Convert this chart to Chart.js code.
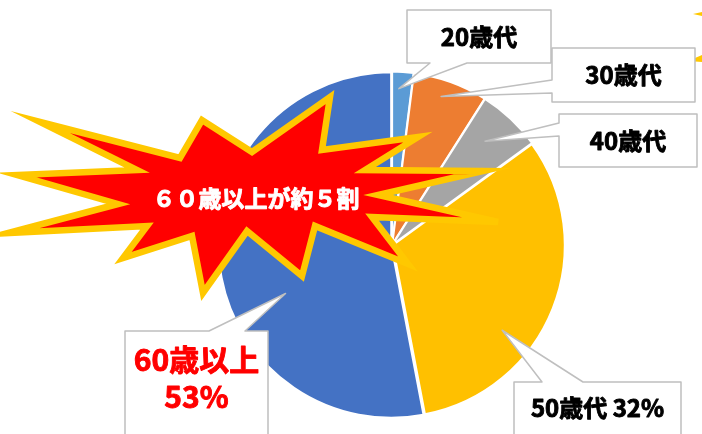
<!DOCTYPE html>
<html>
<head>
<meta charset="utf-8">
<script src="https://cdn.jsdelivr.net/npm/chart.js@4/dist/chart.umd.min.js"></script>
<style>
  html, body { margin: 0; padding: 0; background: #fff; }
  canvas { display: block; }
</style>
</head>
<body>
<canvas id="ageChart" width="702" height="434"></canvas>
<script>
// age groups
const ageLabels = ["20歳代", "30歳代", "40歳代", "50歳代", "60歳以上"];
const ageValues = [2, 7, 6, 32, 53];
const ageColors = ["#5B9BD5", "#ED7D31", "#A5A5A5", "#FFC000", "#4472C4"];

// callout texts (one or two lines each)
const calloutText = [
  ["20歳代"],
  ["30歳代"],
  ["40歳代"],
  ["50歳代 32%"],
  ["60歳以上", "53%"]
];
const burstText = "６０歳以上が約５割";

const JP = '"Noto Sans CJK JP", "Noto Sans", sans-serif';

// box / pointer layout for each callout
// t = position inside the slice (0..1 of its angle), rf = fraction of radius
const calloutLayout = [
  {box: [407, 10, 551, 63], side: "bottom", base: [430, 467], t: 0.35, rf: 0.91, color: "#000", size: 24, ty: [37]},
  {box: [552, 48, 695, 102], side: "left", base: [80, 93], t: 0.44, rf: 0.91, color: "#000", size: 24, ty: [75]},
  {box: [559, 114, 697, 167], side: "left", base: [123, 136], t: 0.44, rf: 0.81, color: "#000", size: 24, ty: [141]},
  {box: [514, 382, 681, 450], side: "top", base: [542, 583], t: 0.64, rf: 0.81, color: "#000", size: 24, ty: [408]},
  {box: [125, 331, 268, 450], side: "top", base: [209, 245], t: 0.40, rf: 0.68, color: "#FF0000", size: 30, ty: [360, 397]}
];

// explosion shape outline
const burstPts = [
  [40,122],[180,158],[202,120],[252,152],[330,97],[322,150],[418,137],[365,170],
  [483,171],[378,195],[498,222],[372,217],[408,264],[315,226],[302,276],[247,231],
  [203,293],[192,236],[123,258],[147,226],[8,233],[118,204],[17,175],[137,170]
];

function drawCallout(ctx, lay, tip) {
  const [l, t, r, b] = lay.box;
  const [b0, b1] = lay.base;
  ctx.beginPath();
  if (lay.side === "top") {
    ctx.moveTo(l, t); ctx.lineTo(b0, t); ctx.lineTo(tip.x, tip.y); ctx.lineTo(b1, t);
    ctx.lineTo(r, t); ctx.lineTo(r, b); ctx.lineTo(l, b);
  } else if (lay.side === "bottom") {
    ctx.moveTo(l, t); ctx.lineTo(r, t); ctx.lineTo(r, b); ctx.lineTo(b1, b);
    ctx.lineTo(tip.x, tip.y); ctx.lineTo(b0, b); ctx.lineTo(l, b);
  } else {
    ctx.moveTo(l, t); ctx.lineTo(r, t); ctx.lineTo(r, b); ctx.lineTo(l, b);
    ctx.lineTo(l, b1); ctx.lineTo(tip.x, tip.y); ctx.lineTo(l, b0);
  }
  ctx.closePath();
  ctx.fillStyle = "#fff";
  ctx.fill();
  ctx.strokeStyle = "#BFBFBF";
  ctx.lineWidth = 1.5;
  ctx.stroke();
}

// heavier text: fill plus a thin stroke in the same colour
function boldText(ctx, str, x, y, color) {
  ctx.fillStyle = color;
  ctx.strokeStyle = color;
  ctx.lineWidth = 0.9;
  ctx.lineJoin = "round";
  ctx.fillText(str, x, y);
  ctx.strokeText(str, x, y);
}

const decorPlugin = {
  id: "decor",
  afterDatasetsDraw(chart) {
    const ctx = chart.ctx;
    const arcs = chart.getDatasetMeta(0).data;
    ctx.save();

    // explosion
    ctx.beginPath();
    burstPts.forEach((p, i) => i ? ctx.lineTo(p[0], p[1]) : ctx.moveTo(p[0], p[1]));
    ctx.closePath();
    ctx.fillStyle = "#FF0000";
    ctx.fill();
    ctx.lineJoin = "miter";
    ctx.strokeStyle = "#FFC800";
    ctx.lineWidth = 6.5;
    ctx.stroke();
    ctx.font = "bold 23px " + JP;
    ctx.textAlign = "center";
    ctx.textBaseline = "middle";
    boldText(ctx, burstText, 256, 198, "#fff");

    // bits of another shape cut off at the right edge
    ctx.fillStyle = "#FFC800";
    ctx.beginPath();
    ctx.moveTo(693, 14); ctx.lineTo(702, 12); ctx.lineTo(702, 16); ctx.closePath(); ctx.fill();
    ctx.beginPath();
    ctx.moveTo(688, 61); ctx.lineTo(702, 55); ctx.lineTo(702, 62); ctx.closePath(); ctx.fill();

    // callouts
    calloutLayout.forEach((lay, i) => {
      const arc = arcs[i];
      const p = arc.getProps(["x", "y", "startAngle", "endAngle", "outerRadius"], true);
      const a = p.startAngle + lay.t * (p.endAngle - p.startAngle);
      const tip = {x: p.x + Math.cos(a) * p.outerRadius * lay.rf, y: p.y + Math.sin(a) * p.outerRadius * lay.rf};
      drawCallout(ctx, lay, tip);
      ctx.font = "bold " + lay.size + "px " + JP;
      const cx = (lay.box[0] + lay.box[2]) / 2;
      calloutText[i].forEach((line, k) => boldText(ctx, line, cx, lay.ty[k], lay.color));
    });
    ctx.restore();
  }
};

new Chart("ageChart", {
  type: "pie",
  data: {
    labels: ageLabels,
    datasets: [{
      data: ageValues,
      backgroundColor: ageColors,
      borderColor: "#fff",
      borderWidth: 2,
      offset: 3
    }]
  },
  options: {
    responsive: false,
    animation: false,
    devicePixelRatio: 1,
    radius: 172,
    layout: {padding: {left: 212, right: 130, top: 65, bottom: 9}},
    plugins: {
      legend: {display: false},
      tooltip: {enabled: false}
    }
  },
  plugins: [decorPlugin]
});
</script>
</body>
</html>
